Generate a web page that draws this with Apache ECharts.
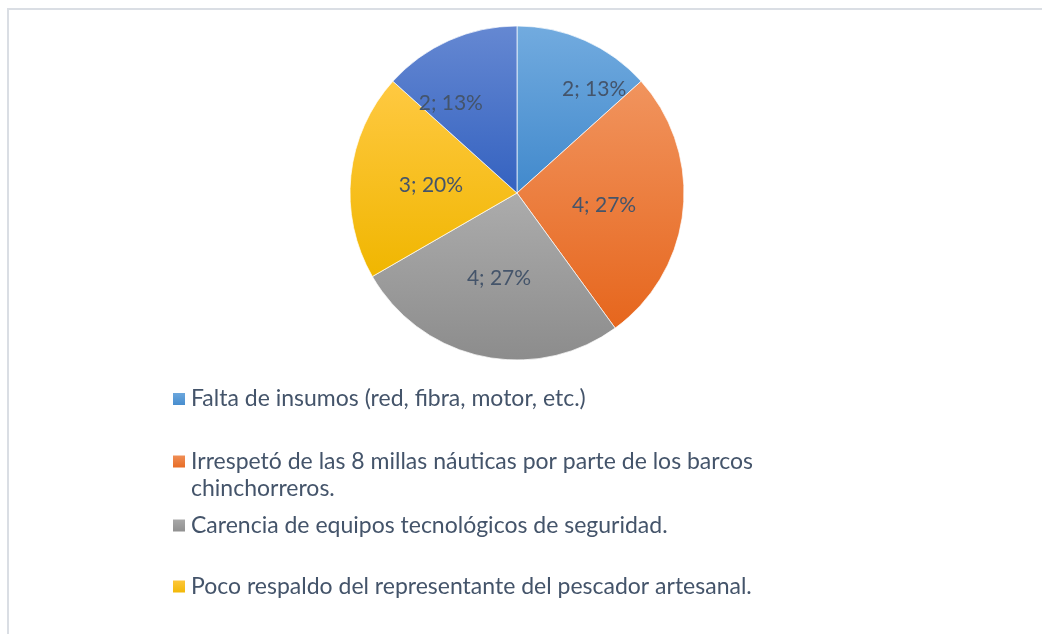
<!DOCTYPE html>
<html>
<head>
<meta charset="utf-8">
<script src="https://cdn.jsdelivr.net/npm/echarts@6/dist/echarts.min.js"></script>
<style>
  html, body { margin: 0; padding: 0; background: #ffffff; overflow: hidden; }
  #frame { position: absolute; left: 7px; top: 8px; width: 1200px; height: 800px; border: 2px solid #dadee4; box-sizing: border-box; }
  #chart { position: absolute; left: 0; top: 0; width: 1042px; height: 634px; }
</style>
</head>
<body>
<div id="frame"></div>
<div id="chart"></div>
<script>
const categories = [
  'Falta de insumos (red, fibra, motor, etc.)',
  'Irrespetó de las 8 millas náuticas por parte de los barcos chinchorreros.',
  'Carencia de equipos tecnológicos de seguridad.',
  'Poco respaldo del representante del pescador artesanal.',
  'Otros'
];
const values = [2, 4, 4, 3, 2];

// styling (not data)
const gradients = [
  ['#72abdf', '#4189cc'],
  ['#f1945e', '#e6661d'],
  ['#acacac', '#8c8c8c'],
  ['#ffc942', '#f0b600'],
  ['#6588d2', '#3462c0']
];
const labelNudge = [[42, -25], [1, 3], [0, 1], [0, 1], [-31, -11]];
const legendTops = [385.5, 421, 512, 573];
const FONT = 'Lato, "Open Sans", sans-serif';
const TXT = '#44546a';

function grad(c) {
  return new echarts.graphic.LinearGradient(0, 0, 0, 1, [
    { offset: 0, color: c[0] }, { offset: 1, color: c[1] }
  ]);
}

const chart = echarts.init(document.getElementById('chart'), null, { renderer: 'canvas' });

const legends = categories.slice(0, 4).map((name, i) => {
  const twoLine = i === 1;
  return {
    data: [name],
    orient: 'vertical',
    left: 171,
    top: legendTops[i],
    padding: 0,
    icon: 'rect',
    itemWidth: 14,
    itemHeight: 14,
    itemGap: 0,
    selectedMode: false,
    // wrapped entry: an empty first line keeps the icon level with the first text line
    formatter: n => twoLine ? '\n' + n.replace(' chinchorreros.', '\nchinchorreros.') : n,
    textStyle: {
      fontFamily: FONT,
      fontSize: 23,
      color: TXT,
      lineHeight: 27
    }
  };
});

chart.setOption({
  animation: false,
  legend: legends,
  series: [{
    type: 'pie',
    center: [517, 193],
    radius: [0, 167],
    startAngle: 90,
    clockwise: true,
    avoidLabelOverlap: false,
    itemStyle: { borderColor: '#ffffff', borderWidth: 0.7 },
    label: {
      show: true,
      position: 'inside',
      fontFamily: FONT,
      fontSize: 21,
      color: TXT,
      formatter: p => p.value + '; ' + Math.round(p.percent) + '%'
    },
    labelLine: { show: false },
    labelLayout: p => ({ dx: labelNudge[p.dataIndex][0], dy: labelNudge[p.dataIndex][1] }),
    emphasis: { disabled: true },
    data: categories.map((name, i) => ({
      name: name,
      value: values[i],
      itemStyle: { color: grad(gradients[i]) }
    }))
  }]
});
</script>
</body>
</html>
